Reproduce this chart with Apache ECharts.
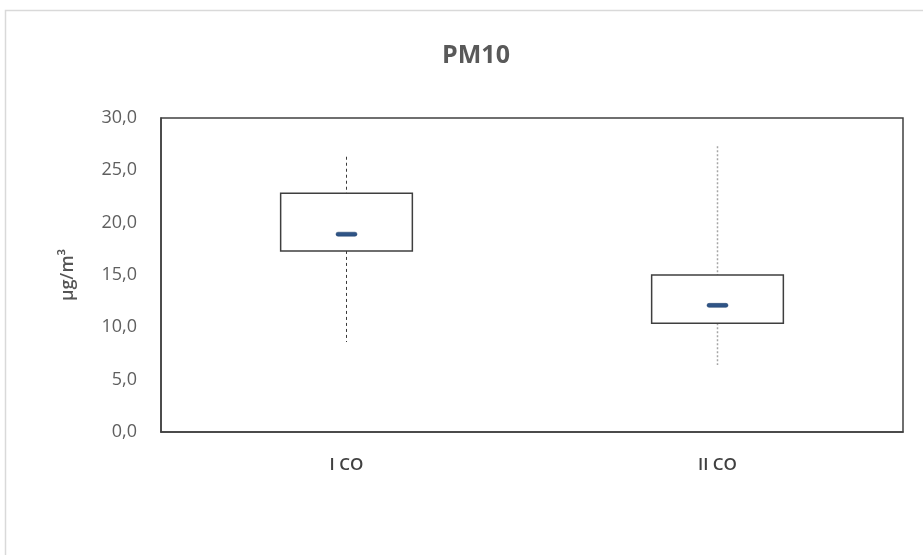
<!DOCTYPE html>
<html>
<head>
<meta charset="utf-8">
<script src="https://cdn.jsdelivr.net/npm/echarts@6/dist/echarts.min.js"></script>
<style>
  html, body { margin: 0; padding: 0; background: #fff; }
  #chart { width: 923px; height: 555px; }
</style>
</head>
<body>
<div id="chart"></div>
<script>
// PM10 concentration by campaign (µg/m³)
const categories = ['I CO', 'II CO'];
const whiskerLow  = [8.6, 6.4];
const boxLow      = [17.3, 10.4];
const median      = [18.9, 12.1];
const boxHigh     = [22.8, 15.0];
const whiskerHigh = [26.3, 27.3];
const yTicks = { min: 0, max: 30, interval: 5 };

// Whisker line styles per campaign
const whiskerStyles = [
  { stroke: '#3a3a3a', lineWidth: 1, lineDash: [3, 3] },
  { stroke: '#a6a6a6', lineWidth: 1.5, lineDash: [2, 2] }
];

const data = categories.map((c, i) => [i, whiskerLow[i], boxLow[i], median[i], boxHigh[i], whiskerHigh[i]]);

function renderBox(params, api) {
  const idx = api.value(0);
  const pLow = api.coord([idx, api.value(1)]);
  const pQ1 = api.coord([idx, api.value(2)]);
  const pMed = api.coord([idx, api.value(3)]);
  const pQ3 = api.coord([idx, api.value(4)]);
  const pHigh = api.coord([idx, api.value(5)]);
  const bandW = api.size([1, 0])[0];
  const boxW = bandW * 0.355;
  const x = pQ1[0];
  const ws = whiskerStyles[params.dataIndex];
  return {
    type: 'group',
    children: [
      { type: 'line', shape: { x1: x, y1: pHigh[1], x2: x, y2: pQ3[1] },
        style: { stroke: ws.stroke, lineWidth: ws.lineWidth, lineDash: ws.lineDash } },
      { type: 'line', shape: { x1: x, y1: pQ1[1], x2: x, y2: pLow[1] },
        style: { stroke: ws.stroke, lineWidth: ws.lineWidth, lineDash: ws.lineDash } },
      { type: 'rect', shape: { x: x - boxW / 2, y: pQ3[1], width: boxW, height: pQ1[1] - pQ3[1] },
        style: { fill: '#ffffff', stroke: '#3f3f3f', lineWidth: 1.5 } },
      { type: 'rect', shape: { x: x - 10.5, y: pMed[1] - 2, width: 21, height: 4, r: 2 },
        style: { fill: '#2f5486', stroke: '#1f3f6a', lineWidth: 0.5 } }
    ]
  };
}

const chart = echarts.init(document.getElementById('chart'), null, { renderer: 'canvas' });
chart.setOption({
  animation: false,
  backgroundColor: '#ffffff',
  title: {
    text: 'PM10',
    left: 471, top: 38, textAlign: 'center',
    textStyle: { fontFamily: 'Open Sans', fontSize: 25, fontWeight: 'bold', color: '#595959' }
  },
  graphic: [{
    type: 'rect', silent: true, z: -10,
    shape: { x: 5.5, y: 10.5, width: 940, height: 560 },
    style: { fill: 'none', stroke: '#d9d9d9', lineWidth: 1.5 }
  }],
  grid: {
    left: 161, top: 118, right: 20, bottom: 123,
    show: true, borderColor: '#404040', borderWidth: 1.5, backgroundColor: '#ffffff'
  },
  xAxis: {
    type: 'category',
    data: categories,
    axisLine: { show: true, lineStyle: { color: '#404040', width: 1.5 } },
    axisTick: { show: false },
    splitLine: { show: false },
    axisLabel: {
      margin: 25, color: '#404040', fontFamily: 'Open Sans', fontSize: 17, fontWeight: 600
    }
  },
  yAxis: {
    type: 'value',
    min: yTicks.min, max: yTicks.max, interval: yTicks.interval,
    name: 'µg/m³',
    nameLocation: 'middle',
    nameGap: 84,
    nameRotate: 90,
    nameTextStyle: { color: '#555555', fontFamily: 'Open Sans', fontSize: 18, fontWeight: 600 },
    axisLine: { show: true, lineStyle: { color: '#404040', width: 1.5 } },
    axisTick: { show: false },
    splitLine: { show: false },
    axisLabel: {
      margin: 24, color: '#5f5f5f', fontFamily: 'Open Sans', fontSize: 18,
      formatter: v => v.toFixed(1).replace('.', ',')
    }
  },
  series: [{
    type: 'custom',
    renderItem: renderBox,
    encode: { x: 0, y: [1, 2, 3, 4, 5] },
    data: data
  }]
});
</script>
</body>
</html>
